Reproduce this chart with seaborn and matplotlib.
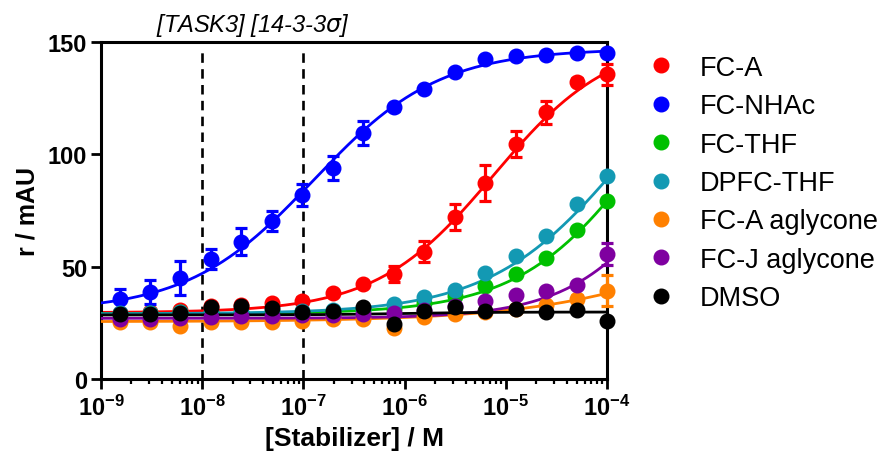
import numpy as np
import pandas as pd
import seaborn as sns
import matplotlib.pyplot as plt
from matplotlib.lines import Line2D
from matplotlib.ticker import LogLocator, NullFormatter
import matplotlib.transforms as mtransforms

# 2-fold dilution series, M
conc = [1.53e-9, 3.05e-9, 6.10e-9, 1.22e-8, 2.44e-8, 4.88e-8, 9.77e-8, 1.95e-7,
        3.91e-7, 7.81e-7, 1.56e-6, 3.13e-6, 6.25e-6, 1.25e-5, 2.5e-5, 5e-5, 1e-4]

names = ["FC-A", "FC-NHAc", "FC-THF", "DPFC-THF", "FC-A aglycone", "FC-J aglycone", "DMSO"]
colors = ["#ff0000", "#0000ff", "#00c000", "#1399b3", "#ff8000", "#7f00a0", "#000000"]

fc_a = [29.5, 30.0, 30.5, 32.3, 33.0, 33.8, 34.9, 38.4, 42.3, 46.8, 56.7, 72.0, 87.2, 104.6, 118.7, 132.3, 135.7]
fc_nhac = [35.6, 38.8, 44.8, 53.4, 61.0, 70.3, 81.9, 93.9, 109.5, 120.9, 129.0, 136.8, 142.4, 143.9, 144.3, 144.9, 145.2]
fc_thf = [29.0, 29.2, 30.0, 29.5, 29.5, 29.5, 29.7, 30.4, 30.5, 31.0, 34.0, 36.8, 41.5, 46.7, 53.7, 66.5, 79.4]
dpfc_thf = [29.5, 29.5, 29.8, 30.0, 30.0, 30.3, 30.2, 30.5, 31.0, 33.4, 36.5, 39.7, 47.2, 54.6, 63.5, 77.9, 90.5]
fc_a_agly = [25.2, 25.2, 23.8, 25.5, 25.5, 25.2, 26.0, 26.5, 26.8, 22.8, 27.5, 28.9, 29.8, 31.2, 32.9, 35.8, 39.3]
fc_j_agly = [26.5, 26.5, 27.0, 27.5, 28.0, 28.0, 28.5, 28.5, 29.0, 29.5, 30.5, 32.3, 34.9, 37.4, 39.3, 41.8, 55.6]
dmso = [28.8, 28.8, 29.5, 31.9, 32.3, 31.4, 29.7, 30.4, 31.9, 24.5, 30.2, 32.0, 30.4, 31.2, 30.0, 30.7, 26.0]

err_fc_a = [1, 1, 1, 1, 1, 1, 1.5, 1, 1, 3.5, 4.5, 5.9, 7.9, 5.6, 5.0, 1.5, 4.7]
err_fc_nhac = [4.5, 5.2, 7.5, 4.5, 6.0, 4.5, 5.0, 5.5, 5.5, 1.5, 1, 1, 1, 1, 1, 1, 1]
err_fc_thf = [1] * 17
err_dpfc_thf = [1] * 17
err_fc_a_agly = [1, 1, 1, 1, 1, 1, 1, 1, 1, 1, 1, 1, 1, 1, 1, 1.5, 6.8]
err_fc_j_agly = [1, 1, 1, 1, 1, 1, 1, 1, 1, 1, 1, 1, 1, 1, 1, 1, 5.0]
err_dmso = [1] * 17

# fitted dose-response parameters: bottom, top, logEC50, hill slope
fit_bottom = [29.5, 30.0, 29.0, 29.0, 25.5, 27.0, 28.5]
fit_top = [152.0, 147.0, 175.0, 170.0, 100.0, 160.0, 29.8]
fit_logec50 = [-5.12, -6.9, -3.6, -3.8, -2.47, -3.2, -6.0]
fit_hill = [0.75, 0.7, 0.7, 0.65, 0.45, 0.8, 1.0]

values = [fc_a, fc_nhac, fc_thf, dpfc_thf, fc_a_agly, fc_j_agly, dmso]
errors = [err_fc_a, err_fc_nhac, err_fc_thf, err_dpfc_thf, err_fc_a_agly, err_fc_j_agly, err_dmso]

sns.set_style("ticks")
plt.rcParams['font.family'] = ['Liberation Sans', 'DejaVu Sans']
plt.rcParams['mathtext.fontset'] = 'custom'
plt.rcParams['mathtext.rm'] = 'Liberation Sans'
plt.rcParams['mathtext.bf'] = 'Liberation Sans:bold'
plt.rcParams['text.color'] = 'black'
plt.rcParams['axes.labelcolor'] = 'black'

fig = plt.figure(figsize=(8.88, 4.56), dpi=100)
ax = fig.add_axes([0.1137, 0.1667, 0.5699, 0.739])

# dashed reference lines
ax.vlines([1e-8, 1e-7], 0, 147.5, colors='black', linewidth=1.9,
          linestyles=[(0, (3.6, 2.4))], zorder=1)

xfit = np.logspace(-9, -4, 300)
for i, name in enumerate(names):
    yfit = fit_bottom[i] + (fit_top[i] - fit_bottom[i]) / (1 + 10 ** ((fit_logec50[i] - np.log10(xfit)) * fit_hill[i]))
    df = pd.DataFrame({'x': xfit, 'y': yfit})
    sns.lineplot(data=df, x='x', y='y', color=colors[i], linewidth=2.0, ax=ax, zorder=2 + i)
    ax.errorbar(conc, values[i], yerr=errors[i], fmt='o', color=colors[i], markersize=10.5,
                elinewidth=2.3, capsize=4.5, capthick=2.3, clip_on=False, zorder=3 + i)

ax.set_xscale('log')
ax.set_xlim(1e-9, 1e-4)
ax.set_ylim(0, 150)
ax.set_yticks([0, 50, 100, 150])
ax.set_yticklabels(['0', '50', '100', '150'], fontweight='bold')
ax.set_xticks([1e-9, 1e-8, 1e-7, 1e-6, 1e-5, 1e-4])
ax.set_xticklabels([r'$\mathbf{10^{-9}}$', r'$\mathbf{10^{-8}}$', r'$\mathbf{10^{-7}}$',
                    r'$\mathbf{10^{-6}}$', r'$\mathbf{10^{-5}}$', r'$\mathbf{10^{-4}}$'])
ax.xaxis.set_minor_locator(LogLocator(base=10, subs=range(2, 10), numticks=20))
ax.xaxis.set_minor_formatter(NullFormatter())
ax.tick_params(which='major', length=7, width=2, labelsize=17, color='black', labelcolor='black')
ax.tick_params(axis='y', pad=3)
ax.tick_params(axis='x', pad=4)
ax.tick_params(which='minor', length=3.5, width=1.6, color='black')
for s in ax.spines.values():
    s.set_linewidth(2.2)
    s.set_color('black')

ax.set_xlabel('[Stabilizer] / M', fontsize=19, fontweight='bold', labelpad=5)
ax.set_ylabel('r / mAU', fontsize=18, fontweight='bold', labelpad=6)

trans = mtransforms.blended_transform_factory(ax.transData, ax.transAxes)
ax.text(3.16e-8, 1.053, r'[TASK3] [14-3-3$\sigma$]', transform=trans, ha='center', va='center',
        fontsize=17, fontstyle='italic')

handles = [Line2D([], [], marker='o', ls='none', color=c, markersize=10.5) for c in colors]
fig.legend(handles, names, loc='upper left', bbox_to_anchor=(0.729, 0.878), frameon=False,
           fontsize=19.5, handlelength=1.0, handletextpad=0.95, labelspacing=0.46,
           borderpad=0, borderaxespad=0)

fig.savefig('out.png', dpi=100)
